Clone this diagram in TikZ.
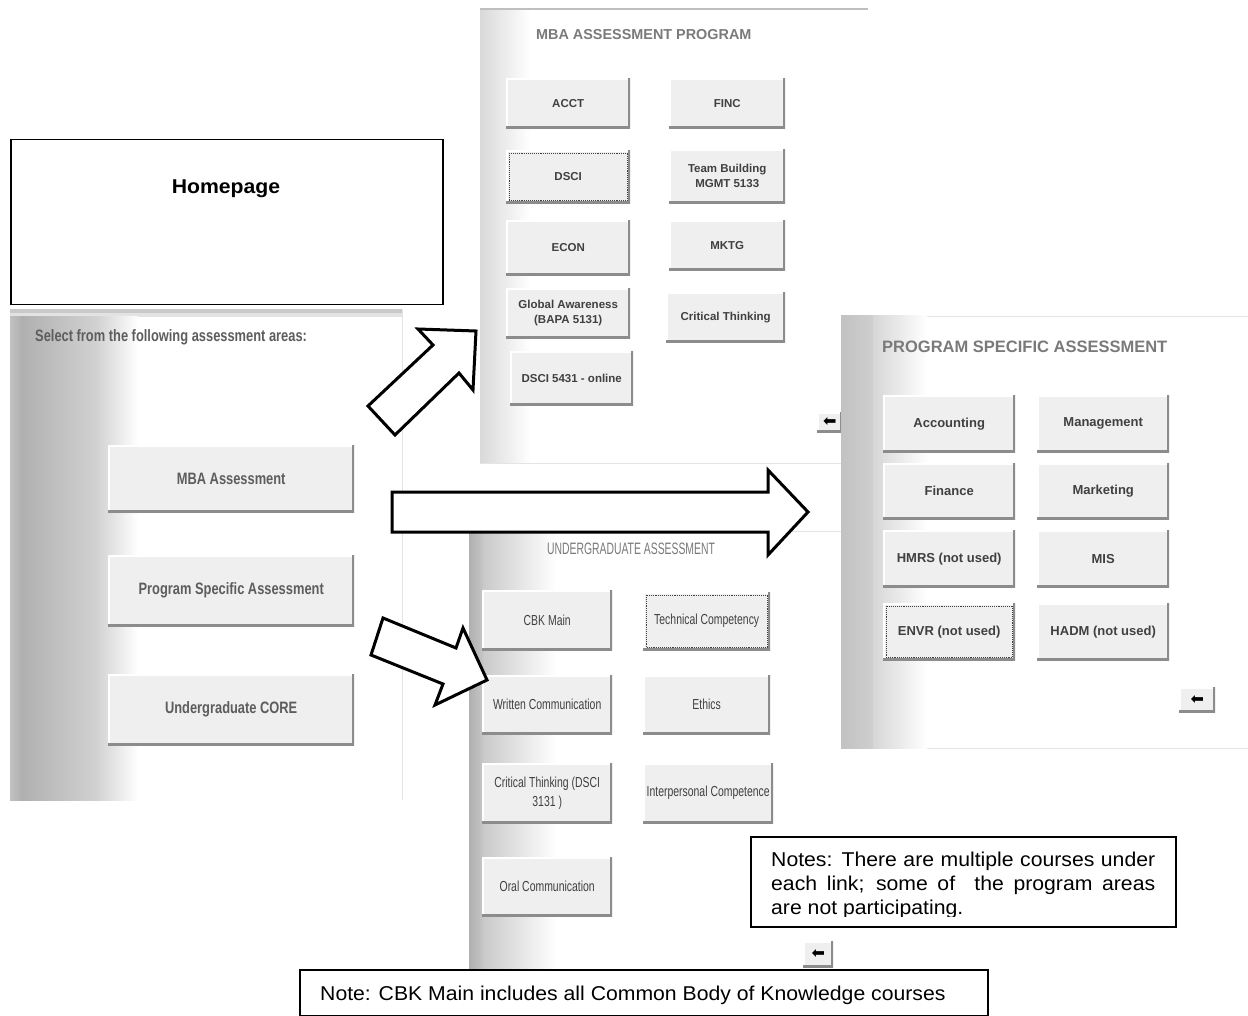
\documentclass[tikz,border=0pt]{standalone}
\usepackage{fontspec}
\setmainfont{Liberation Sans}
\newfontfamily\leftfont[FakeStretch=0.78]{Liberation Sans}
\newfontfamily\ugfont[FakeStretch=0.72]{Liberation Sans}
\newfontfamily\ugtitlefont[FakeStretch=0.63]{Liberation Sans}
\newfontfamily\notefont[FakeStretch=1.06]{Liberation Sans}
\newfontfamily\symfont{DejaVu Sans}
\definecolor{btnfill}{HTML}{EFEFEF}
\definecolor{btnedge}{HTML}{8C8C8C}
\definecolor{btntext}{HTML}{404040}
\definecolor{titlegray}{HTML}{7A7A7A}
\definecolor{faintline}{HTML}{E4E4E4}
\tikzset{
  btn/.style={fill=btnfill, inner sep=0pt, anchor=north west, align=center, text=btntext,
    path picture={
      \draw[white,line width=3pt] (path picture bounding box.south west) -- (path picture bounding box.north west) -- (path picture bounding box.north east);
      \draw[btnedge,line width=4pt] (path picture bounding box.south west) -- (path picture bounding box.south east) -- (path picture bounding box.north east);
    }},
  leftbtn/.style={btn, font={\leftfont\bfseries\fontsize{16.5}{19}\selectfont}, text=btntext!85!white},
  mbabtn/.style={btn, font={\bfseries\fontsize{11.5}{15}\selectfont}},
  psabtn/.style={btn, font={\bfseries\fontsize{13}{16}\selectfont}},
  ugbtn/.style={btn, font={\ugfont\fontsize{14.5}{19}\selectfont}},
  backbtn/.style={btn, font={\symfont\fontsize{16}{16}\selectfont}, text=black},
  focusline/.style={draw=btntext, densely dotted, line width=0.9pt},
  paneltitle/.style={inner sep=0pt, text=titlegray},
  blockarrow/.style={draw=black, fill=white, line width=3pt, line join=miter},
  notebox/.style={draw=black, line width=1.5pt, fill=white},
  notetext/.style={inner sep=0pt, anchor=base west, font={\notefont\fontsize{20}{23}\selectfont}}
}
\begin{document}
\begin{tikzpicture}[x=1pt,y=-1pt]
\useasboundingbox (0,0) rectangle (1248,1016);
\fill[white] (0,0) rectangle (1248,1016);

%% ---------------- Left (home) panel ----------------
\fill[gray!42] (10,309) rectangle (402,313);
\fill[gray!22] (10,313) rectangle (402,317);
\shade[left color=gray!48, right color=gray!62] (10,317) rectangle (22,800);
\shade[left color=gray!62, right color=gray!36] (22,317) rectangle (96,800);
\shade[left color=gray!36, right color=white] (96,317) rectangle (138,800);
\draw[faintline] (402,309) -- (402,800);
\node[inner sep=0pt, anchor=west, text=btntext!85!white, font={\leftfont\bfseries\fontsize{16.5}{19}\selectfont}] (selecttxt) at (35,337) {Select from the following assessment areas:};
\node[leftbtn, minimum width=246pt, minimum height=67pt] (mbaassess) at (108,445) {MBA Assessment};
\node[leftbtn, minimum width=246pt, minimum height=71pt] (psassess) at (108,555) {Program Specific Assessment};
\node[leftbtn, minimum width=246pt, minimum height=71pt] (ugcore) at (108,674) {Undergraduate CORE};

%% Homepage box
\node[draw=black, line width=1.5pt, fill=white, anchor=north west, minimum width=432pt, minimum height=165pt, inner sep=0pt] (homebox) at (10,139) {};
\node[inner sep=0pt, font={\notefont\bfseries\fontsize{20}{24}\selectfont}] (hometxt) at (226,189) {Homepage};

%% ---------------- MBA panel ----------------
\fill[white] (480,8) rectangle (868,463);
\fill[gray!50] (480,8) rectangle (868,10.5);
\shade[left color=gray!30, right color=white] (480,10.5) rectangle (530,463);
\draw[faintline] (480,463) -- (868,463);
\node[paneltitle, anchor=west, font={\bfseries\fontsize{14.4}{17}\selectfont}] (mbatitle) at (536,35) {MBA ASSESSMENT PROGRAM};
\node[mbabtn, minimum width=124pt, minimum height=50pt] (acct) at (506,78) {ACCT};
\node[mbabtn, minimum width=116pt, minimum height=50pt] (finc) at (669,78) {FINC};
\node[mbabtn, minimum width=124pt, minimum height=53pt] (dsci) at (506,150) {DSCI};
\node[mbabtn, minimum width=116pt, minimum height=54pt] (team) at (669,149) {Team Building\\MGMT 5133};
\node[mbabtn, minimum width=124pt, minimum height=55pt] (econ) at (506,220) {ECON};
\node[mbabtn, minimum width=116pt, minimum height=50pt] (mktg) at (669,220) {MKTG};
\node[mbabtn, minimum width=124pt, minimum height=50pt] (global) at (506,288) {Global Awareness\\(BAPA 5131)};
\node[mbabtn, minimum width=119pt, minimum height=50pt] (crit) at (666,292) {Critical Thinking};
\node[mbabtn, minimum width=123pt, minimum height=54pt] (dsci5431) at (510,351) {DSCI 5431 - online};
\draw[focusline] ([shift={(3pt,-3pt)}]dsci.north west) rectangle ([shift={(-3pt,3pt)}]dsci.south east);
\node[backbtn, minimum width=25pt, minimum height=20pt] (mbaback) at (817,412) {⬅};

%% ---------------- Undergraduate panel ----------------
\fill[white] (469,531) rectangle (850,969);
\draw[faintline] (469,531) -- (850,531);
\shade[left color=gray!62, right color=gray!45] (469,531) rectangle (483,969);
\shade[left color=gray!42, right color=white] (483,531) rectangle (556,969);
\node[paneltitle, font={\ugtitlefont\fontsize{16.5}{19}\selectfont}] (ugtitle) at (631,549) {UNDERGRADUATE ASSESSMENT};
\node[ugbtn, minimum width=130pt, minimum height=60pt] (cbk) at (482,590) {CBK Main};
\node[ugbtn, minimum width=127pt, minimum height=58pt] (tech) at (643,592) {Technical Competency};
\node[ugbtn, minimum width=130pt, minimum height=59pt] (written) at (482,675) {Written Communication};
\node[ugbtn, minimum width=127pt, minimum height=59pt] (ethics) at (643,675) {Ethics};
\node[ugbtn, minimum width=130pt, minimum height=60pt] (critug) at (482,763) {Critical Thinking (DSCI\\3131 )};
\node[ugbtn, minimum width=130pt, minimum height=60pt] (interp) at (643,763) {Interpersonal Competence};
\node[ugbtn, minimum width=130pt, minimum height=59pt] (oral) at (482,857) {Oral Communication};
\draw[focusline] ([shift={(3pt,-3pt)}]tech.north west) rectangle ([shift={(-3pt,3pt)}]tech.south east);
\node[backbtn, minimum width=30pt, minimum height=26pt] (ugback) at (803,941) {⬅};

%% ---------------- Program specific panel ----------------
\fill[white] (841,316) rectangle (1248,748);
\draw[faintline] (841,316) -- (1248,316);
\draw[faintline] (841,748) -- (1248,748);
\shade[left color=gray!48, right color=gray!38] (841,316) rectangle (873,748);
\shade[left color=gray!32, right color=white] (873,316) rectangle (927,748);
\node[paneltitle, anchor=west, font={\bfseries\fontsize{16.5}{19}\selectfont}] (psatitle) at (882,347) {PROGRAM SPECIFIC ASSESSMENT};
\node[psabtn, minimum width=132pt, minimum height=57pt] (accounting) at (883,395) {Accounting};
\node[psabtn, minimum width=132pt, minimum height=57pt] (management) at (1037,395) {Management};
\node[psabtn, minimum width=132pt, minimum height=56pt] (finance) at (883,463) {Finance};
\node[psabtn, minimum width=132pt, minimum height=56pt] (marketing) at (1037,463) {Marketing};
\node[psabtn, minimum width=132pt, minimum height=57pt] (hmrs) at (883,530) {HMRS (not used)};
\node[psabtn, minimum width=132pt, minimum height=57pt] (mis) at (1037,530) {MIS};
\node[psabtn, minimum width=132pt, minimum height=57pt] (envr) at (883,603) {ENVR (not used)};
\node[psabtn, minimum width=132pt, minimum height=57pt] (hadm) at (1037,603) {HADM (not used)};
\draw[focusline] ([shift={(3pt,-3pt)}]envr.north west) rectangle ([shift={(-3pt,3pt)}]envr.south east);
\node[backbtn, minimum width=36pt, minimum height=25pt] (psaback) at (1179,687) {⬅};

%% ---------------- Notes ----------------
\node[notebox, anchor=north west, minimum width=425pt, minimum height=90pt, inner sep=0pt] (notesbox) at (750,836) {};
\begin{scope}
\clip (751,837) rectangle (1174,916);
\node[notetext] (notesA) at (771,866) {\makebox[384pt][s]{Notes: There are multiple courses under}};
\node[notetext] (notesB) at (771,890) {\makebox[384pt][s]{each link; some of\ \ the program areas}};
\node[notetext] (notesC) at (771,914) {are not participating.};
\end{scope}
\node[notebox, anchor=north west, minimum width=688pt, minimum height=46pt, inner sep=0pt] (cbkbox) at (299,969) {};
\node[notetext] (cbknote) at (320,1000) {Note: CBK Main includes all Common Body of Knowledge courses};

%% ---------------- Block arrows ----------------
\draw[blockarrow] (368,406) -- (433,345) -- (418,329) -- (476,331) -- (473,390) -- (459,373) -- (395,435) -- cycle;
\draw[blockarrow] (392,492) -- (768,492) -- (768,470) -- (808,512) -- (768,555) -- (768,532) -- (392,532) -- cycle;
\draw[blockarrow] (383,618) -- (456,648) -- (463,628) -- (487,680) -- (435,705) -- (443,684) -- (371,655) -- cycle;
\end{tikzpicture}
\end{document}
